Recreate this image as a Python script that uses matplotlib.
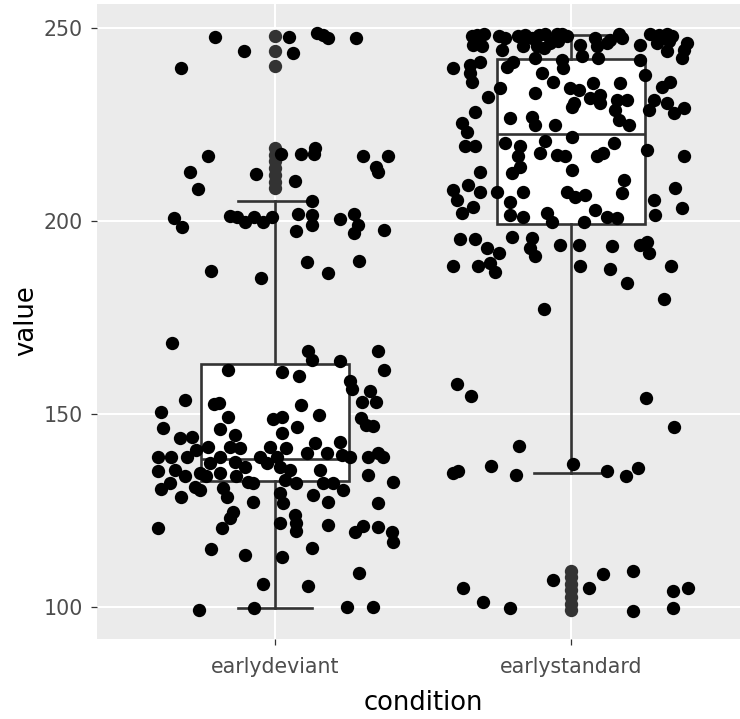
import matplotlib
matplotlib.use("Agg")
import matplotlib.pyplot as plt

plt.rcParams["font.family"] = ["DejaVu Sans"]

# -----------------------------
# Data
# -----------------------------
categories = ["earlydeviant", "earlystandard"]

# box statistics (whiskers end at the error-bar caps)
q1 = [132.7, 199.1]
median = [138.3, 222.5]
q3 = [163.0, 242.0]
whisker_low = [99.7, 134.6]
whisker_high = [205.2, 248.2]

# boxplot outliers (drawn at the category centre)
deviant_outliers = [247.9, 244.0, 240.2, 218.8, 217.1, 215.4, 213.6, 211.9, 210.2, 208.5]
standard_outliers = [109.4, 107.7, 106.0, 104.3, 102.5, 100.8, 99.2]

# jittered points: horizontal offset from the category and value
deviant_jitter = [
    -0.203, -0.104, 0.048, 0.062, 0.143, 0.161, 0.180, 0.273, -0.318,
    -0.225, -0.285, -0.259, -0.341, -0.312, -0.064, 0.020, 0.068, 0.090,
    0.135, 0.133, 0.298, 0.383, 0.343, 0.347, 0.126, -0.152, -0.129,
    -0.101, -0.071, -0.041, -0.011, 0.077, 0.127, 0.127, 0.220, 0.267,
    0.281, 0.267, 0.369, 0.073, -0.214, -0.048, 0.107, 0.180, 0.284,
    -0.346, 0.113, 0.126, 0.220, 0.347, 0.369, -0.158, 0.023, 0.082,
    0.253, 0.259, 0.321, 0.293, 0.343, -0.302, -0.205, -0.188, 0.088,
    -0.385, -0.158, -0.006, 0.023, 0.149, 0.291, 0.307, 0.332, -0.377,
    -0.186, 0.075, 0.023, -0.135,
    -0.394, -0.349, -0.394, -0.383, -0.321, -0.281, -0.338, -0.304, -0.315,
    -0.270, -0.253, -0.298, -0.265, -0.225, -0.220, -0.186, -0.186, -0.175,
    -0.163, -0.152, -0.118, -0.135, -0.101, -0.090, -0.073, -0.073, -0.051,
    -0.028, -0.017, 0.006, 0.017, 0.034, 0.039, 0.051, 0.073, 0.107,
    0.135, 0.152, 0.163, 0.175, 0.197, 0.220, 0.225, 0.231, 0.253,
    0.180, 0.130, 0.017, 0.028, -0.130, -0.231, -0.253, -0.355, 0.315,
    0.349, 0.366, 0.315, 0.400, 0.349,
    -0.141, -0.152, -0.177, -0.394, 0.017, 0.068, 0.073, 0.071, 0.180,
    0.270, 0.296, 0.349, 0.394, 0.398, -0.214, -0.101, 0.023, 0.126,
    0.284, -0.039, 0.113, -0.256, -0.071, 0.245, 0.332,
]
deviant_value = [
    247.7, 244.0, 247.7, 243.4, 248.8, 248.2, 247.5, 247.5, 239.6,
    216.7, 212.6, 208.2, 200.7, 198.4, 212.2, 217.3, 210.4, 217.3,
    218.8, 217.3, 216.7, 216.8, 214.1, 212.6, 205.2, 201.3, 201.1,
    199.8, 201.1, 199.6, 201.1, 201.8, 201.6, 199.0, 200.4, 201.8,
    199.0, 197.0, 197.7, 197.5, 187.0, 185.3, 189.3, 186.6, 189.5,
    168.3, 166.4, 164.0, 163.6, 166.3, 161.4, 161.4, 160.8, 159.8,
    158.6, 156.5, 156.0, 153.2, 153.2, 153.5, 152.6, 152.8, 152.3,
    150.4, 149.1, 148.7, 149.1, 149.7, 148.9, 147.2, 146.9, 146.3,
    146.0, 146.7, 145.0, 144.6,
    138.9, 138.9, 135.1, 130.5, 143.7, 144.1, 135.5, 133.8, 128.6,
    131.2, 134.6, 138.9, 140.7, 141.5, 137.2, 138.9, 134.6, 130.8,
    128.6, 141.5, 141.1, 137.6, 136.3, 132.5, 132.0, 127.3, 138.9,
    137.2, 141.5, 138.9, 136.3, 132.9, 141.1, 135.5, 132.0, 139.8,
    142.4, 135.5, 132.0, 139.8, 132.0, 142.8, 139.4, 130.3, 138.9,
    127.3, 129.0, 129.5, 126.9, 133.8, 133.8, 130.3, 132.0, 138.9,
    139.8, 138.9, 134.2, 132.5, 127.0,
    124.7, 123.0, 120.4, 120.4, 121.8, 123.8, 121.7, 119.8, 121.2,
    119.5, 121.0, 120.8, 119.5, 116.7, 115.0, 113.5, 112.9, 115.2,
    108.9, 105.9, 105.5, 99.2, 99.8, 100.1, 100.1,
]

standard_jitter = [
    -0.336, -0.319, -0.294, -0.330, -0.302, -0.245, -0.223, -0.234, -0.178,
    -0.155, -0.133, -0.110, -0.088, -0.161, -0.116, -0.093, -0.122, -0.048,
    -0.032, -0.015, -0.071, -0.043, 0.030, 0.081, 0.087, 0.132, 0.160,
    0.171, 0.120, 0.036, 0.092, -0.032, -0.026, 0.233, 0.233, 0.267,
    0.295, 0.323, 0.340, 0.289, 0.329, 0.391, 0.380, 0.374, 0.323,
    -0.398, -0.341, -0.307, -0.341, -0.336, -0.217, -0.195, -0.099, -0.060,
    -0.279, -0.240, -0.122, -0.324, -0.369, -0.352, -0.206, -0.133, -0.122,
    -0.054, -0.003, 0.025, 0.008, 0.002, 0.075, 0.064, 0.098, 0.098,
    0.166, 0.154, 0.149, 0.160, 0.194, 0.188, 0.250, 0.261, 0.278,
    0.306, 0.334, 0.323, 0.346, 0.380,
    -0.358, -0.324, -0.223, -0.172, -0.178, -0.172, -0.200, -0.105, -0.088,
    -0.048, -0.020, 0.002, 0.002, 0.087, 0.109, 0.143, 0.177, 0.171,
    0.256, 0.380, -0.307, -0.398, -0.386, -0.347, -0.307, -0.251, -0.369,
    -0.330, -0.206, -0.161, -0.015, 0.014, 0.047, -0.206, -0.161, -0.082,
    -0.065, 0.042, 0.081, 0.120, 0.154, 0.278, 0.284, 0.351, 0.374,
    -0.375, -0.324, -0.285, -0.245, -0.274, -0.398, -0.313, -0.257, -0.200,
    -0.133, -0.139, -0.122, -0.037, 0.025, 0.030, 0.137, 0.132, 0.233,
    0.256, 0.261, 0.190, 0.338, 0.312, -0.093,
    -0.386, -0.338, 0.253, 0.346, -0.175, -0.398, -0.381, -0.271, -0.186,
    0.005, 0.120, 0.185, 0.225,
    -0.364, -0.298, -0.206, -0.062, 0.059, 0.106, 0.207, 0.207, 0.342,
    0.393, 0.342,
]
standard_value = [
    247.8, 248.2, 248.5, 245.6, 245.2, 247.8, 247.3, 244.3, 247.8,
    248.2, 247.3, 248.2, 248.5, 245.2, 245.2, 244.7, 242.1, 248.5,
    248.5, 247.8, 246.0, 246.5, 245.6, 247.3, 245.2, 246.9, 248.5,
    247.3, 246.0, 242.6, 242.1, 241.7, 239.6, 245.6, 241.7, 248.5,
    248.2, 248.5, 247.8, 246.0, 246.5, 246.0, 244.3, 242.1, 243.9,
    239.6, 240.4, 241.3, 238.3, 236.1, 240.0, 241.3, 238.3, 236.1,
    232.2, 234.4, 233.1, 228.3, 225.3, 223.1, 226.6, 227.0, 224.9,
    224.9, 234.4, 233.9, 230.5, 229.6, 235.7, 231.8, 232.6, 230.5,
    235.7, 231.3, 228.8, 226.2, 224.9, 231.3, 237.8, 228.8, 231.3,
    234.8, 236.1, 230.5, 227.9, 229.2,
    219.3, 219.3, 220.1, 219.3, 216.7, 214.1, 212.3, 217.5, 220.6,
    217.1, 216.7, 213.2, 221.8, 216.7, 217.5, 220.1, 210.6, 207.2,
    218.4, 216.8, 212.8, 208.0, 205.4, 209.3, 207.6, 207.6, 202.0,
    203.7, 205.0, 207.6, 207.6, 206.3, 206.7, 201.6, 201.1, 202.0,
    199.8, 199.8, 202.8, 201.1, 200.7, 205.4, 201.6, 208.5, 203.3,
    195.2, 195.2, 192.9, 191.6, 189.0, 188.2, 188.2, 186.9, 195.9,
    195.5, 192.9, 190.8, 193.8, 193.8, 188.2, 193.4, 187.5, 193.8,
    194.6, 191.6, 183.9, 188.2, 179.7, 177.2,
    157.8, 154.7, 154.1, 146.7, 141.8, 134.6, 135.1, 136.4, 134.2,
    137.0, 135.2, 133.9, 136.1,
    105.0, 101.4, 99.7, 107.0, 104.8, 108.5, 109.4, 99.0, 104.1,
    105.0, 99.7,
]

# -----------------------------
# Plotting
# -----------------------------
fig = plt.figure(figsize=(7.4, 7.19), dpi=100)
# panel runs past the right edge of the picture, like the cropped reference
ax = fig.add_axes([97 / 740, 80 / 719, 652 / 740, 635 / 719])
ax.set_facecolor("#EBEBEB")
for spine in ax.spines.values():
    spine.set_visible(False)

box_stats = []
outliers = [deviant_outliers, standard_outliers]
for i, name in enumerate(categories):
    box_stats.append(dict(label=name, q1=q1[i], med=median[i], q3=q3[i],
                          whislo=whisker_low[i], whishi=whisker_high[i],
                          fliers=outliers[i]))

line_col = "#333333"
ax.bxp(
    box_stats,
    positions=[1, 2],
    widths=0.5,
    capwidths=0.25,
    patch_artist=True,
    boxprops=dict(facecolor="white", edgecolor=line_col, linewidth=1.9),
    medianprops=dict(color=line_col, linewidth=1.9),
    whiskerprops=dict(color=line_col, linewidth=1.9),
    capprops=dict(color=line_col, linewidth=1.9),
    flierprops=dict(marker="o", markerfacecolor=line_col,
                    markeredgecolor="none", markersize=9.6),
)

ax.scatter([1 + d for d in deviant_jitter], deviant_value,
           s=92, color="black", linewidths=0, zorder=3)
ax.scatter([2 + d for d in standard_jitter], standard_value,
           s=92, color="black", linewidths=0, zorder=3)

ax.set_xlim(0.4, 2.6)
ax.set_ylim(91.7, 256.2)
ax.set_yticks([100, 150, 200, 250])
ax.set_xticks([1, 2])
ax.set_xticklabels(categories)
ax.set_axisbelow(True)
ax.grid(True, color="white", linewidth=1.5)
ax.tick_params(colors=line_col, labelcolor="#4D4D4D", labelsize=14.8,
               length=4.5, width=0.9)
ax.tick_params(axis="x", pad=8.3)
ax.tick_params(axis="y", pad=5.5)

fig.text(423 / 740, 1 - 710 / 719, "condition", ha="center",
         va="baseline", fontsize=18.6)
fig.text(33 / 740, 1 - 321 / 719, "value", rotation=90,
         rotation_mode="anchor", ha="center", va="baseline", fontsize=18.6)

fig.savefig("out.png", dpi=100)
plt.close(fig)
